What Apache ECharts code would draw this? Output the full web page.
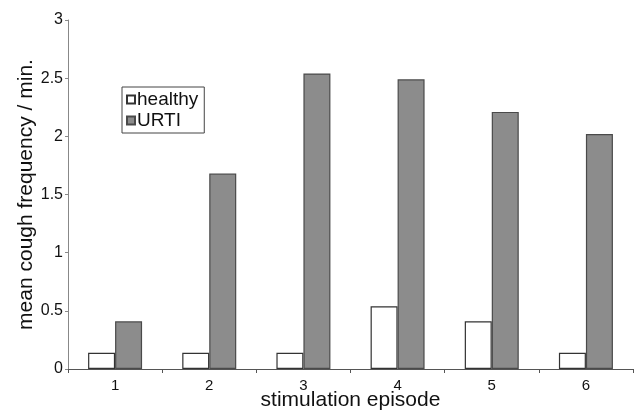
<!DOCTYPE html>
<html>
<head>
<meta charset="utf-8">
<script src="https://cdn.jsdelivr.net/npm/echarts@6/dist/echarts.min.js"></script>
<style>
  html, body { margin: 0; padding: 0; background: #fff; }
  #chart { width: 635px; height: 414px; }
</style>
</head>
<body>
<div id="chart"></div>
<script>
// data
var episodes = ['1', '2', '3', '4', '5', '6'];
var healthy = [0.14, 0.14, 0.14, 0.54, 0.41, 0.14];
var urti = [0.41, 1.68, 2.54, 2.49, 2.21, 2.02];

var chart = echarts.init(document.getElementById('chart'), null, { renderer: 'canvas' });

var font = 'Liberation Sans, Arial, sans-serif';

var option = {
  animation: false,
  backgroundColor: '#fff',
  textStyle: { fontFamily: font },
  grid: { left: 68, right: 2, top: 20, bottom: 45, containLabel: false, outerBoundsMode: 'none' },
  legend: {
    orient: 'vertical',
    left: 122,
    top: 87,
    padding: [3, 6, 3, 4],
    itemGap: 2,
    itemWidth: 8,
    itemHeight: 8,
    borderColor: '#444',
    borderWidth: 1,
    textStyle: { fontSize: 19, color: '#111', fontFamily: font, padding: [0, 0, 0, -3] },
    data: [
      { name: 'healthy', icon: 'rect' },
      { name: 'URTI', icon: 'rect' }
    ]
  },
  xAxis: {
    type: 'category',
    data: episodes,
    name: 'stimulation episode',
    nameLocation: 'middle',
    nameGap: 21,
    nameMoveOverlap: false,
    nameTextStyle: { fontSize: 21, color: '#111', fontFamily: font },
    axisLine: { lineStyle: { color: '#555', width: 1 } },
    axisTick: { show: true, inside: false, length: 4, lineStyle: { color: '#555' } },
    axisLabel: { fontSize: 15, color: '#111', margin: 9 },
    splitLine: { show: false }
  },
  yAxis: {
    type: 'value',
    min: 0,
    max: 3,
    interval: 0.5,
    name: 'mean cough frequency / min.',
    nameLocation: 'middle',
    nameGap: 31,
    nameMoveOverlap: false,
    nameTextStyle: { fontSize: 21, color: '#111', fontFamily: font },
    axisLine: { show: true, lineStyle: { color: '#888', width: 1 } },
    axisTick: { show: true, length: 3, lineStyle: { color: '#888' } },
    axisLabel: { fontSize: 16, color: '#111', margin: 5 },
    splitLine: { show: false }
  },
  series: [
    {
      name: 'healthy',
      type: 'bar',
      data: healthy,
      barWidth: 27,
      barGap: '0%',
      itemStyle: { color: '#fff', borderColor: '#333', borderWidth: 1.2 }
    },
    {
      name: 'URTI',
      type: 'bar',
      data: urti,
      barWidth: 27,
      barGap: '0%',
      itemStyle: { color: '#8c8c8c', borderColor: '#4a4a4a', borderWidth: 1.2 }
    }
  ]
};

chart.setOption(option);
</script>
</body>
</html>
